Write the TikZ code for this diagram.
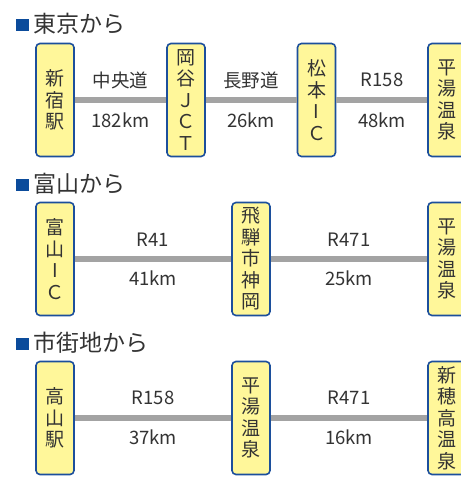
\documentclass[tikz,border=0pt]{standalone}
\usepackage{fontspec}
\setmainfont{Noto Sans CJK JP}
\usepackage{xcolor}
\definecolor{boxfill}{HTML}{FFF79A}
\definecolor{boxline}{HTML}{1C4F9C}
\definecolor{roadgray}{HTML}{A3A3A3}
\definecolor{textgray}{HTML}{333333}
\definecolor{markblue}{HTML}{0B4B9B}
\tikzset{
	stop/.style={rectangle, rounded corners=4pt, draw=boxline, line width=1.6pt, fill=boxfill,
		minimum width=38pt, minimum height=113pt, inner sep=0pt, align=center,
		text=textgray, font=\fontsize{19}{21.5}\selectfont},
	road/.style={draw=roadgray, line width=6pt},
	dist/.style={text=textgray, inner sep=0pt, font=\fontsize{18.5}{19}\selectfont},
	head/.style={anchor=west, text=textgray, inner sep=0pt, font=\fontsize{23}{24}\selectfont},
	headmark/.style={fill=markblue, inner sep=0pt, minimum width=12.5pt, minimum height=12pt}
}
\begin{document}
\begin{tikzpicture}[x=1pt, y=-1pt]
	\useasboundingbox (0,0) rectangle (461,483);
	\clip (0,0) rectangle (461,483);
	% 東京から
	\node[headmark] (mark1) at (22.5,25){};
	\node[head] (head1) at (33,24){東京から};
	\node[stop] (shinjuku) at (55,100){新\\宿\\駅};
	\node[stop] (okaya)    at (186,100){岡\\谷\\Ｊ\\Ｃ\\Ｔ};
	\node[stop] (matsumoto) at (316.5,100){松\\本\\I\\Ｃ};
	\node[stop] (hirayu1)  at (447,100){平\\湯\\温\\泉};
	\draw[road] (shinjuku) -- (okaya);
	\draw[road] (okaya) -- (matsumoto);
	\draw[road] (matsumoto) -- (hirayu1);
	\node[dist] (r11) at (120.5,80){中央道};
	\node[dist] (d11) at (120.5,120){182km};
	\node[dist] (r12) at (251,80){長野道};
	\node[dist] (d12) at (251,120){26km};
	\node[dist] (r13) at (382,80){R158};
	\node[dist] (d13) at (382,120){48km};
	% 富山から
	\node[headmark] (mark2) at (22.5,184.5){};
	\node[head] (head2) at (33,184){富山から};
	\node[stop] (toyama)   at (55,259){富\\山\\I\\Ｃ};
	\node[stop] (kamioka)  at (251,259){\fontsize{19}{20.5}\selectfont 飛\\騨\\市\\神\\岡};
	\node[stop] (hirayu2)  at (447,259){平\\湯\\温\\泉};
	\draw[road] (toyama) -- (kamioka);
	\draw[road] (kamioka) -- (hirayu2);
	\node[dist] (r21) at (153,240){R41};
	\node[dist] (d21) at (153,278){41km};
	\node[dist] (r22) at (349,240){R471};
	\node[dist] (d22) at (349,278){25km};
	% 市街地から
	\node[headmark] (mark3) at (22.5,344){};
	\node[head] (head3) at (33,343){市街地から};
	\node[stop] (takayama) at (55,418){高\\山\\駅};
	\node[stop] (hirayu3)  at (251,418){平\\湯\\温\\泉};
	\node[stop] (shinhotaka) at (447,418){\fontsize{19}{20.5}\selectfont 新\\穂\\高\\温\\泉};
	\draw[road] (takayama) -- (hirayu3);
	\draw[road] (hirayu3) -- (shinhotaka);
	\node[dist] (r31) at (153,398){R158};
	\node[dist] (d31) at (153,437){37km};
	\node[dist] (r32) at (349,398){R471};
	\node[dist] (d32) at (349,437){16km};
\end{tikzpicture}
\end{document}
